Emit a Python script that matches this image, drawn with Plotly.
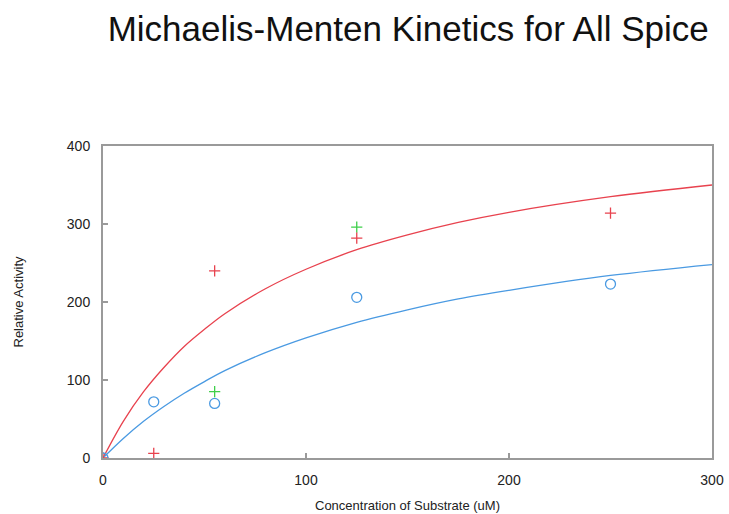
import plotly.graph_objects as go

# Observed data points
red_x = [0, 25, 55, 125, 250]
red_y = [0, 6, 240, 282, 314]
green_x = [55, 125]
green_y = [85, 296]
blue_x = [0, 25, 55, 125, 250]
blue_y = [0, 72, 70, 206, 223]

# Fitted curves
curve_x = [0, 10, 20, 30, 40, 50, 60, 80, 100, 125, 150, 175, 200, 250, 300]
red_curve = [0, 47, 85, 116, 143, 165, 185, 217, 242, 267, 286, 302, 315, 335, 350]
blue_curve = [0, 25, 47, 66, 83, 98, 112, 135, 154, 174, 190, 204, 215, 234, 248]

x_ticks = [0, 100, 200, 300]
y_ticks = [0, 100, 200, 300, 400]

RED = "#e8424e"
BLUE = "#4a9ae2"
GREEN = "#3ecf4a"

fig = go.Figure()
fig.add_trace(go.Scatter(x=curve_x, y=red_curve, mode="lines", line=dict(color=RED, width=1.3, shape="spline"), hoverinfo="skip"))
fig.add_trace(go.Scatter(x=curve_x, y=blue_curve, mode="lines", line=dict(color=BLUE, width=1.3, shape="spline"), hoverinfo="skip"))
fig.add_trace(go.Scatter(x=green_x, y=green_y, mode="markers",
                         marker=dict(symbol="cross-thin", size=8, line=dict(color=GREEN, width=1.3))))
fig.add_trace(go.Scatter(x=red_x, y=red_y, mode="markers",
                         marker=dict(symbol="cross-thin", size=8, line=dict(color=RED, width=1.3))))
fig.add_trace(go.Scatter(x=blue_x, y=blue_y, mode="markers",
                         marker=dict(symbol="circle-open", size=10, color=BLUE, line=dict(color=BLUE, width=1.3))))

axis_common = dict(showgrid=False, zeroline=False, showline=True, linecolor="#9a9a9a", linewidth=2,
                   mirror=True, ticks="inside", ticklen=5, tickcolor="#9a9a9a", tickwidth=1.5,
                   ticklabelstandoff=8,
                   tickfont=dict(family="Liberation Sans, Arial", size=14, color="#222"))

fig.update_layout(
    width=729, height=514,
    paper_bgcolor="white", plot_bgcolor="white",
    showlegend=False,
    margin=dict(l=103, r=17, t=146, b=56, autoexpand=False),
    title=dict(text="Michaelis-Menten Kinetics for All Spice", x=0.56, xanchor="center", y=0.945, yanchor="middle",
               font=dict(family="Liberation Sans, Arial", size=35, color="#111")),
    xaxis=dict(range=[0, 300], tickvals=x_ticks,
               title=dict(text="Concentration of Substrate (uM)", standoff=14,
                          font=dict(family="Liberation Sans, Arial", size=13, color="#222")),
               **axis_common),
    yaxis=dict(range=[0, 400], tickvals=y_ticks,
               title=dict(text="Relative Activity", standoff=40,
                          font=dict(family="Liberation Sans, Arial", size=13, color="#222")),
               **axis_common),
)

fig.write_html("out.html")
